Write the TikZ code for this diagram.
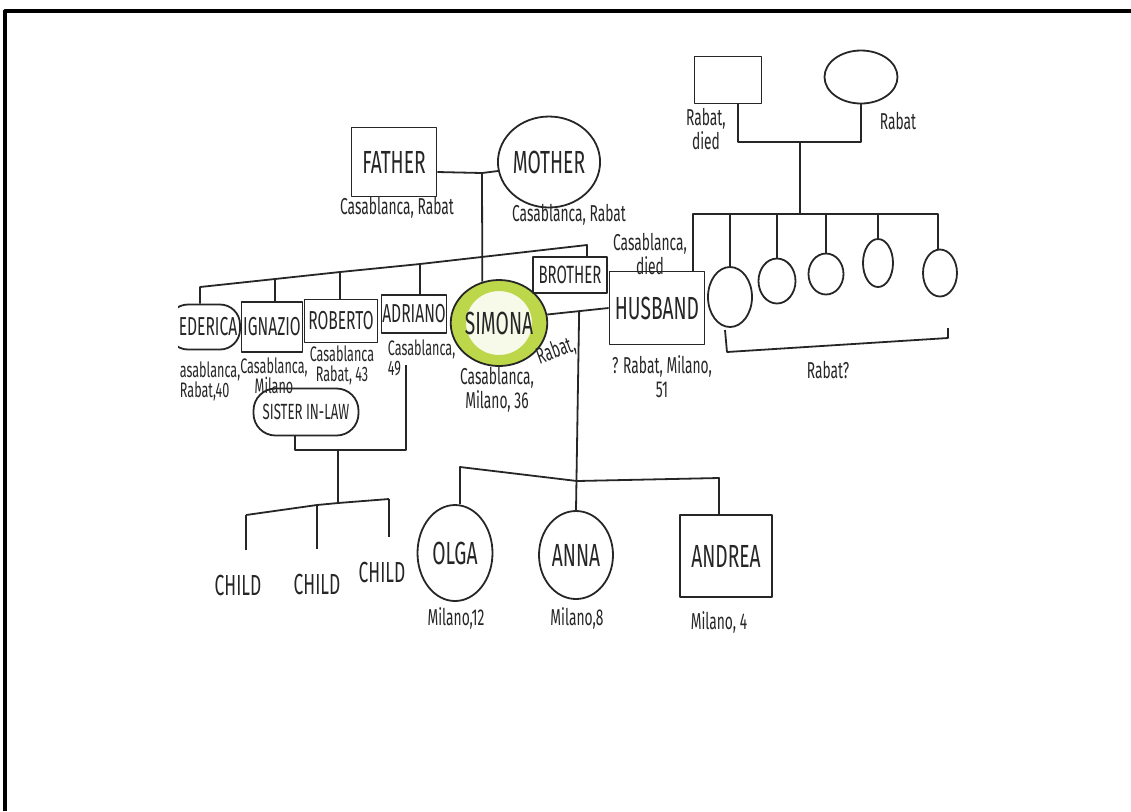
\documentclass[tikz,border=0pt]{standalone}
\usepackage{fontspec}
\newfontfamily\hand[FakeStretch=0.6]{Fira Sans}
\usetikzlibrary{shapes.geometric,calc}
\definecolor{hilite}{HTML}{BCD84A}

\begin{document}
\begin{tikzpicture}[x=0.5pt, y=-0.5pt, line width=0.9pt, line join=round, draw=black!85, text=black!85,
  man/.style={rectangle, draw, inner sep=0pt},
  woman/.style={ellipse, draw, inner sep=0pt},
  pal/.style={rectangle, rounded corners=10pt, draw, inner sep=0pt},
  big/.style={font=\hand\fontsize{16}{16}\selectfont},
  mid/.style={font=\hand\fontsize{13}{13}\selectfont},
  lab/.style={font=\hand\fontsize{11.5}{12}\selectfont, align=center, inner sep=0pt},
  slab/.style={font=\hand\fontsize{10.5}{10}\selectfont, align=center, inner sep=0pt}]
    \useasboundingbox (0,0) rectangle (1131,811);
    \draw[line width=1.6pt, black] (5,811) -- (5,11) -- (1131,11);

    \node[man, minimum width=33.5pt, minimum height=23.5pt] (gf) at (728,80) {};
    \node[woman, minimum width=36.5pt, minimum height=26.5pt] (gm) at (861,77) {};
    \node[lab] (lgf) at (706,129) {Rabat,\\died};
    \node[lab] (lgm) at (898,121) {Rabat};

    \node[man, big, minimum width=42.5pt, minimum height=34.5pt] (f) at (394,162) {FATHER};
    \node[woman, big, minimum width=46pt, minimum height=45.5pt] (m) at (549,162) {MOTHER};
    \node[lab] (lf) at (397,208) {Casablanca, Rabat};
    \node[lab] (lm) at (569,215) {Casablanca, Rabat};

    \begin{scope}
        \clip (178,280) rectangle (260,410);
        \node[pal, mid, minimum width=36pt, minimum height=22.5pt] (fe) at (204,327) {\hspace*{4pt}EDERICA};
        \node[slab, anchor=west, align=left] (lfe) at (179,381) {asablanca,\\Rabat,40};
    \end{scope}
    \node[man, mid, minimum width=30.5pt, minimum height=25pt] (ig) at (272,327) {IGNAZIO};
    \node[man, mid, minimum width=36.5pt, minimum height=21.5pt] (ro) at (341,321) {ROBERTO};
    \node[man, mid, minimum width=32.5pt, minimum height=19pt] (ad) at (414,314) {ADRIANO};
    \node[slab] (lig) at (274,376) {Casablanca,\\Milano};
    \node[slab] (lro) at (342,365) {Casablanca\\Rabat, 43};
    \node[slab, anchor=west, align=left] (lad) at (387,358) {Casablanca,\\49};

    \node[woman, big, minimum width=44pt, minimum height=43pt, fill=hilite!12,
        path picture={\draw[hilite, line width=11pt] (path picture bounding box.center) ellipse [x radius=22pt, y radius=21.5pt];}] (s) at (499,323) {SIMONA};
    \node[lab] (ls) at (497,390) {Casablanca,\\Milano, 36};
    \node[lab, rotate=20] (lsr) at (556,351) {Rabat,};

    \node[man, font=\hand\fontsize{12.5}{12.5}\selectfont, minimum width=37pt, minimum height=18pt] (b) at (570,275) {BROTHER};
    \node[man, big, minimum width=47.5pt, minimum height=36.5pt] (h) at (657,308) {HUSBAND};
    \node[lab] (lh0) at (650,254) {Casablanca,\\died};
    \node[lab] (lh) at (662,377) {? Rabat, Milano,\\51};

    \node[woman, minimum width=22pt, minimum height=30pt] (c1) at (730,297) {};
    \node[woman, minimum width=18.5pt, minimum height=22.5pt] (c2) at (777,281) {};
    \node[woman, minimum width=17.5pt, minimum height=20.5pt] (c3) at (826,274) {};
    \node[woman, minimum width=15pt, minimum height=24pt] (c4) at (878,263) {};
    \node[woman, minimum width=17pt, minimum height=23.5pt] (c5) at (940,273) {};
    \node[lab] (lr) at (828,370) {Rabat?};

    \node[pal, font=\hand\fontsize{11}{11}\selectfont, rounded corners=11pt, minimum width=52.5pt, minimum height=23.5pt] (sl) at (306,412) {SISTER IN-LAW};

    \node[font=\hand\fontsize{14.5}{14.5}\selectfont, inner sep=0pt] (ch1) at (238,585) {CHILD};
    \node[font=\hand\fontsize{14.5}{14.5}\selectfont, inner sep=0pt] (ch2) at (317,584) {CHILD};
    \node[font=\hand\fontsize{14.5}{14.5}\selectfont, inner sep=0pt] (ch3) at (382,572) {CHILD};

    \node[woman, big, minimum width=37.5pt, minimum height=48pt] (ol) at (455,553) {OLGA};
    \node[woman, big, minimum width=37pt, minimum height=44pt] (an) at (576,555) {ANNA};
    \node[man, big, minimum width=46pt, minimum height=41pt] (nd) at (726,556) {ANDREA};
    \node[lab] (lol) at (456,618) {Milano,12};
    \node[lab] (lan) at (577,618) {Milano,8};
    \node[lab] (lnd) at (719,622) {Milano, 4};

    \coordinate (gj) at (800,142);
    \coordinate (rb1) at (693,214);
    \coordinate (rb2) at (938,214);
    \draw ([xshift=5pt]gf.south) |- (gj) -| (gm.south);
    \draw (gj) -- (gj |- rb1);
    \draw (h.north -| rb1) -- (rb1) -- (rb2) -- (c5.north -| rb2);
    \foreach \c in {c1,c2,c3,c4}
        \draw (\c.north) -- (\c.north |- rb1);
    \coordinate (k1) at (725,330);
    \coordinate (k2) at (727,352);
    \coordinate (k3) at (948,338);
    \coordinate (k4) at (948,328);
    \draw (k1) -- (k2) -- (k3) -- (k4);

    \coordinate (pj) at (482,173);
    \draw ([yshift=-5pt]f.east) -- (pj) -- (m.190);
    \draw (pj) -- (s.112);

    \coordinate (sb0) at (200,287);
    \coordinate (sb1) at (275,279);
    \coordinate (sb2) at (340,272);
    \coordinate (sb3) at (420,264);
    \coordinate (sb4) at (587,245);
    \draw (fe.north -| sb0) -- (sb0) -- (sb1) -- (sb2) -- (sb3) -- (sb4) -- (b.north -| sb4);
    \draw (sb1) -- (ig.north -| sb1);
    \draw (sb2) -- (ro.north -| sb2);
    \draw (sb3) -- (ad.north -| sb3);

    \coordinate (am) at (406,365);
    \coordinate (aj) at (406,450);
    \coordinate (sj) at (295,450);
    \coordinate (cj) at (338,450);
    \draw (am) -- (aj) -- (sj) -- (sl.south -| sj);
    \coordinate (kb1) at (246,515);
    \coordinate (kb2) at (317,505);
    \coordinate (kbm) at (338,503);
    \coordinate (kb3) at (389,499);
    \draw (cj) -- (kbm);
    \draw (kb1) -- (kb2) -- (kbm) -- (kb3);
    \foreach \k/\c in {kb1/ch1, kb2/ch2, kb3/ch3}
        \draw[shorten >=12pt] (\k) -- (\k |- \c.north);

    \draw (s.10) -- (h.west);
    \coordinate (sh) at ($(s.10)!0.52!(h.west)$);
    \draw (sh) -- (an.north);
    \coordinate (gb1) at (460,467);
    \coordinate (gb2) at (577,481);
    \coordinate (gb3) at (719,478);
    \draw (ol.north -| gb1) -- (gb1) -- (gb2) -- (gb3) -- (nd.north -| gb3);
\end{tikzpicture}
\end{document}
